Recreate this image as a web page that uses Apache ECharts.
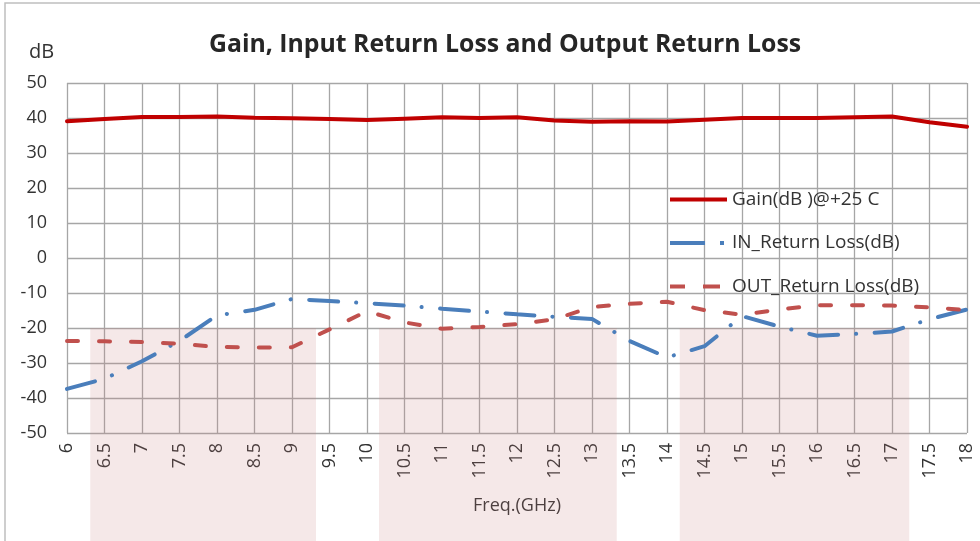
<!DOCTYPE html>
<html>
<head>
<meta charset="utf-8">
<script src="https://cdn.jsdelivr.net/npm/echarts@6/dist/echarts.min.js"></script>
<style>
  html, body { margin: 0; padding: 0; background: #fff; }
  #chart { width: 980px; height: 541px; }
</style>
</head>
<body>
<div id="chart"></div>
<script>
// 频率 (GHz)
var freqs = [6, 6.5, 7, 7.5, 8, 8.5, 9, 9.5, 10, 10.5, 11, 11.5, 12, 12.5, 13, 13.5, 14, 14.5, 15, 15.5, 16, 16.5, 17, 17.5, 18]
// Gain(dB )@+25 C
var gain = [39.1, 39.7, 40.3, 40.3, 40.4, 40.1, 39.9, 39.7, 39.4, 39.8, 40.2, 40.0, 40.2, 39.3, 38.9, 39.1, 39.0, 39.5, 40.0, 40.0, 40.0, 40.2, 40.4, 38.8, 37.5]
// IN_Return Loss(dB)
var inLoss = [-37.4, -34.5, -29.5, -23.7, -16.4, -14.8, -11.7, -12.3, -12.9, -13.6, -14.5, -15.3, -16.1, -16.8, -17.4, -23.7, -28.4, -25.2, -16.6, -19.6, -22.2, -21.7, -21.0, -17.5, -14.7]
// OUT_Return Loss(dB)
var outLoss = [-23.7, -23.8, -24.0, -24.5, -25.4, -25.6, -25.5, -20.4, -15.2, -18.4, -20.2, -19.7, -18.9, -17.5, -14.0, -13.1, -12.5, -14.9, -16.2, -14.7, -13.5, -13.5, -13.6, -14.1, -14.9]
// 粉色频段
var bandStart = [6.31, 10.16, 14.17]
var bandEnd = [9.32, 13.33, 17.23]
var bandTop = -20

var FONT = 'Open Sans'

function pairs(ys) {
  return freqs.map(function (f, i) { return [f, ys[i]] })
}

// 图例图标：实线 / 点划线 / 虚线 (最后的空子路径只是把宽度撑到57)
var iconSolid = 'path://M0,0h57v4h-57z'
var iconDashDot = 'path://M0,0h35v4h-35z M50,0h4v4h-4z M57,0h0v4h0z'
var iconDash = 'path://M0,0h15v4h-15z M33,0h17v4h-17z M57,0h0v4h0z'

var chart = echarts.init(document.getElementById('chart'))

var option = {
  backgroundColor: '#fff',
  animation: false,
  textStyle: { fontFamily: FONT },
  title: [
    {
      text: 'Gain, Input Return Loss and Output Return Loss',
      left: 204,
      top: 27,
      textStyle: { fontFamily: FONT, fontSize: 24.8, fontWeight: 'bold', color: '#262626' }
    },
    {
      text: 'dB',
      left: 24,
      top: 37,
      textStyle: { fontFamily: FONT, fontSize: 20, fontWeight: 'normal', color: '#333' }
    }
  ],
  legend: {
    orient: 'vertical',
    left: 670,
    top: 190,
    padding: 0,
    itemWidth: 57,
    itemHeight: 4,
    itemGap: 24.5,
    symbolKeepAspect: false,
    textStyle: { fontFamily: FONT, fontSize: 19, color: '#333' },
    data: [
      { name: 'Gain(dB )@+25 C', icon: iconSolid },
      { name: 'IN_Return Loss(dB)', icon: iconDashDot },
      { name: 'OUT_Return Loss(dB)', icon: iconDash }
    ]
  },
  grid: { left: 67, right: 13, top: 83, bottom: 108 },
  xAxis: {
    type: 'value',
    min: 6,
    max: 18,
    interval: 0.5,
    name: 'Freq.(GHz)',
    nameLocation: 'middle',
    nameGap: 64,
    nameTextStyle: { fontFamily: FONT, fontSize: 18, color: '#333' },
    axisLine: { show: false },
    axisTick: { show: false },
    axisLabel: { rotate: 90, margin: 10, fontSize: 18, color: '#333', fontFamily: FONT },
    splitLine: { show: true, lineStyle: { color: '#a6a6a6', width: 1.3 } }
  },
  yAxis: {
    type: 'value',
    min: -50,
    max: 50,
    interval: 10,
    axisLine: { show: false },
    axisTick: { show: false },
    axisLabel: { margin: 20, fontSize: 18, color: '#333', fontFamily: FONT },
    splitLine: { show: true, lineStyle: { color: '#a6a6a6', width: 1.3 } }
  },
  series: [
    {
      name: 'Gain(dB )@+25 C',
      type: 'line',
      data: pairs(gain),
      symbol: 'none',
      color: '#c00000',
      lineStyle: { color: '#c00000', width: 4, cap: 'round' }
    },
    {
      name: 'IN_Return Loss(dB)',
      type: 'line',
      data: pairs(inLoss),
      symbol: 'none',
      color: '#4a7ebb',
      lineStyle: { color: '#4a7ebb', width: 4, type: [29, 18, 0.1, 18.5], cap: 'round' }
    },
    {
      name: 'OUT_Return Loss(dB)',
      type: 'line',
      data: pairs(outLoss),
      symbol: 'none',
      color: '#c0504d',
      lineStyle: { color: '#c0504d', width: 4, type: [11, 21], cap: 'round' }
    }
  ]
}

chart.setOption(option)

// 频段底色 + 外框，按坐标换算
var h = chart.getHeight()
var graphics = bandStart.map(function (s, i) {
  var p1 = chart.convertToPixel({ gridIndex: 0 }, [s, bandTop])
  var p2 = chart.convertToPixel({ gridIndex: 0 }, [bandEnd[i], bandTop])
  return {
    type: 'rect',
    z: 1,
    silent: true,
    shape: { x: p1[0], y: p1[1], width: p2[0] - p1[0], height: h - p1[1] },
    style: { fill: 'rgba(200,130,130,0.18)' }
  }
})
graphics.push({
  type: 'rect',
  z: 1,
  silent: true,
  shape: { x: 5, y: 3, width: 1000, height: 600 },
  style: { fill: 'none', stroke: '#bfbfbf', lineWidth: 1.5 }
})
chart.setOption({ graphic: graphics })
</script>
</body>
</html>
